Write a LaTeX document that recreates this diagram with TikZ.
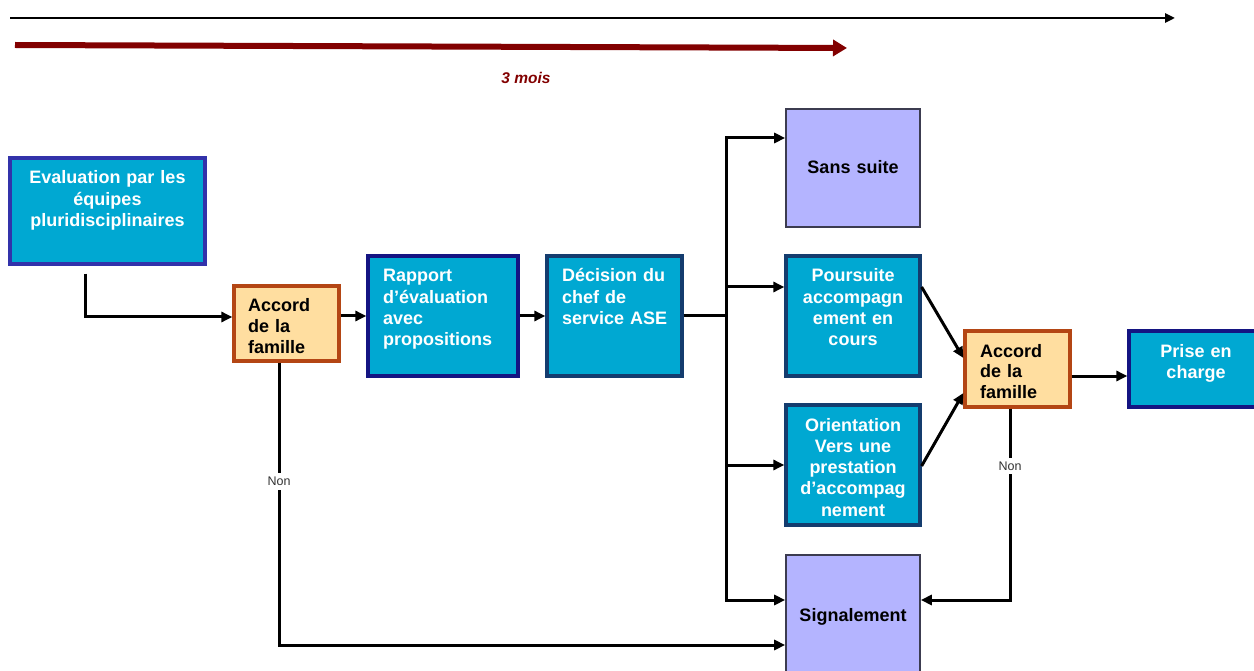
\documentclass[tikz,border=0pt]{standalone}
\usepackage{fontspec}
\setmainfont{Liberation Sans}
\usetikzlibrary{arrows.meta}
\definecolor{cyanf}{RGB}{0,168,210}
\definecolor{evalb}{RGB}{50,50,170}
\definecolor{navyb}{RGB}{20,20,130}
\definecolor{tealb}{RGB}{20,60,110}
\definecolor{orangef}{RGB}{255,222,160}
\definecolor{brownb}{RGB}{180,70,20}
\definecolor{lavf}{RGB}{180,180,255}
\definecolor{grayb}{RGB}{60,60,80}
\definecolor{darkred}{RGB}{130,0,0}
\definecolor{nongray}{RGB}{50,50,50}
\tikzset{
  boxbase/.style={draw, rectangle, inner sep=0pt, line width=3.2pt},
  bluebox/.style={boxbase, fill=cyanf},
  accbox/.style={boxbase, fill=orangef, draw=brownb},
  lavbox/.style={draw=grayb, fill=lavf, rectangle, line width=1.6pt, inner sep=0pt},
  wtxt/.style={text=white, font=\bfseries\fontsize{18}{21.3}\selectfont, inner sep=0pt},
  btxt/.style={text=black, font=\bfseries\fontsize{18}{20.7}\selectfont, inner sep=0pt},
  conn/.style={line width=3pt, -{Triangle[length=11pt,width=10pt]}},
  plainline/.style={line width=3pt},
  nonlbl/.style={fill=white, text=nongray, font=\fontsize{12.5}{14}\selectfont, inner sep=4pt}
}
\begin{document}
\begin{tikzpicture}[x=1pt,y=-1pt]
\useasboundingbox (0,0) rectangle (1254,671);
% timeline arrows
\coordinate (b1) at (10,18);
\coordinate (b2) at (1175,18);
\draw[line width=2.6pt, -{Triangle[length=10pt,width=9pt]}] (b1) -- (b2);
\coordinate (r1) at (15,45);
\coordinate (r2) at (847,48);
\draw[line width=6pt, darkred, -{Triangle[length=14pt,width=16pt]}] (r1) -- (r2);
\node[text=darkred, font=\bfseries\itshape\fontsize{15.5}{17}\selectfont] (mois) at (526,78) {3 mois};

% boxes
\node[bluebox, draw=evalb, minimum width=195pt, minimum height=106pt] (eval) at (107.5,211) {};
\node[accbox, minimum width=105pt, minimum height=75pt] (acc1) at (286.5,323.5) {};
\node[bluebox, draw=navyb, minimum width=150pt, minimum height=120pt] (rap) at (443,316) {};
\node[bluebox, draw=tealb, minimum width=135pt, minimum height=120pt] (dec) at (614.5,316) {};
\node[lavbox, minimum width=134pt, minimum height=118pt] (sans) at (853,168) {};
\node[bluebox, draw=tealb, minimum width=134pt, minimum height=120pt] (pours) at (853,316) {};
\node[bluebox, draw=tealb, minimum width=134pt, minimum height=120pt] (orient) at (853,465) {};
\node[lavbox, minimum width=134pt, minimum height=135pt] (sig) at (853,622.5) {};
\node[accbox, minimum width=105pt, minimum height=76pt] (acc2) at (1017.5,369) {};
\node[bluebox, draw=navyb, minimum width=141pt, minimum height=76pt] (prise) at (1199.5,369) {};

% texts
\node[wtxt, text width=190pt, align=center, anchor=base] (evalt) at (107.5,184) {Evaluation par les\\ équipes\\ pluridisciplinaires};
\node[btxt, text width=95pt, align=left, anchor=base west] (acc1t) at (248,312) {Accord\\ de la\\ famille};
\node[wtxt, text width=135pt, align=left, anchor=base west] (rapt) at (383,282) {Rapport\\ d’évaluation\\ avec\\ propositions};
\node[wtxt, text width=120pt, align=left, anchor=base west] (dect) at (562,282) {Décision du\\ chef de\\ service ASE};
\node[btxt, text width=130pt, align=center, anchor=base] (sanst) at (853,174) {Sans suite};
\node[wtxt, text width=130pt, align=center, anchor=base] (pourst) at (853,282) {Poursuite\\ accompagn\\ ement en\\ cours};
\node[wtxt, text width=130pt, align=center, anchor=base] (orientt) at (853,431) {Orientation\\ Vers une\\ prestation\\ d’accompag\\ nement};
\node[btxt, text width=130pt, align=center, anchor=base] (sigt) at (853,621) {Signalement};
\node[btxt, text width=90pt, align=left, anchor=base west] (acc2t) at (980,357) {Accord\\ de la\\ famille};
\node[wtxt, text width=130pt, align=center, anchor=base] (priset) at (1196,357) {Prise en\\ charge};

% connectors
\draw[conn] ([xshift=-22.5pt,yshift=-8pt]eval.south) |- ([yshift=6.5pt]acc1.west);
\draw[conn] (rap.west -| acc1.east) -- (rap.west);
\draw[conn] (rap.east) -- (dec.west);
\coordinate (tr) at (726,316);
\draw[plainline] (dec.east) -- (tr);
\draw[conn] (tr) |- ([yshift=30pt]sans.west);
\draw[conn] (tr) |- ([yshift=29pt]pours.west);
\draw[conn] (tr) |- (orient.west);
\draw[conn] (tr) |- ([yshift=22.5pt]sig.west);
\draw[conn] ([yshift=29pt]pours.east) -- ([yshift=11pt]acc2.west);
\draw[conn] ([yshift=-1pt]orient.east) -- ([yshift=-24pt]acc2.west);
\draw[conn] ([yshift=-7pt]acc2.east) -- ([yshift=-7pt]prise.west);
\draw[conn] ([xshift=-7.5pt]acc2.south) |- ([yshift=22.5pt]sig.east) node[nonlbl, pos=0.15] (non2) {Non};
\draw[conn] ([xshift=-7.5pt]acc1.south) |- ([yshift=-22.5pt]sig.west) node[nonlbl, pos=0.21] (non1) {Non};
\end{tikzpicture}
\end{document}
